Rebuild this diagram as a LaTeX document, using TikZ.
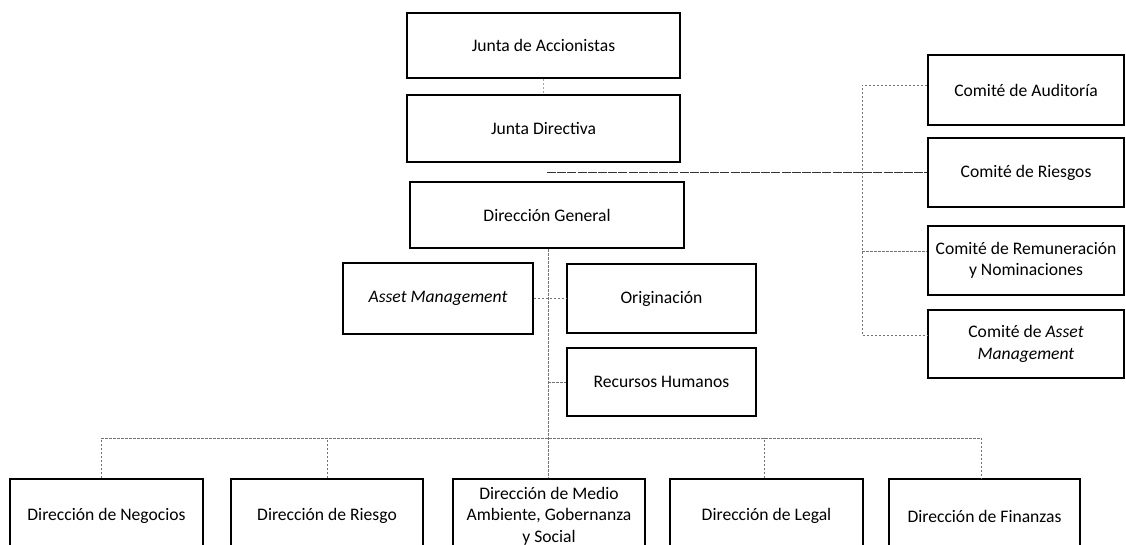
\documentclass[tikz,border=0pt]{standalone}
\usepackage{fontspec}
\setmainfont{Carlito}
\begin{document}
\begin{tikzpicture}[x=1pt,y=-1pt,
  box/.style={draw=black, line width=1.8pt, inner sep=0pt, align=center,
    font=\fontsize{17.6}{21.5}\selectfont},
  bbox/.style={box, minimum height=74pt},
  conn/.style={line width=0.8pt, black!55, dash pattern=on 2.5pt off 1.5pt},
  connd/.style={line width=0.9pt, black!80, dash pattern=on 9pt off 1.2pt}]
\fill[white] (0,0) rectangle (1126,545);
\useasboundingbox (0,0) rectangle (1126,545);
% top column
\node[box, minimum width=273pt, minimum height=65pt] (JA) at (543.5,45.5) {Junta de Accionistas};
\node[box, minimum width=273pt, minimum height=67pt] (JD) at (543.5,128.5) {Junta Directiva};
\node[box, line width=2.2pt, minimum width=274pt, minimum height=66pt] (DG) at (547,215) {Dirección General};
% committees
\node[box, minimum width=196pt, minimum height=70pt] (Aud) at (1026,90) {Comité de Auditoría};
\node[box, minimum width=196pt, minimum height=69pt] (Ries) at (1026,172.5) {Comité de Riesgos};
\node[box, minimum width=196pt, minimum height=69pt] (Rem) at (1026,260.5) {Comité de Remuneración\\y Nominaciones};
\node[box, minimum width=196pt, minimum height=68pt] (CAM) at (1026,344) {Comité de \textit{Asset}\\\textit{Management}};
% middle
\node[box, minimum width=190pt, minimum height=71pt] (AM) at (438,298.5) {\textit{Asset Management}};
\node[box, minimum width=189pt, minimum height=69pt] (Orig) at (661.5,298.5) {Originación};
\node[box, minimum width=189pt, minimum height=68pt] (RH) at (661.5,382) {Recursos Humanos};
% bottom row
\node[bbox, minimum width=193pt] (B1) at (106.5,516) {Dirección de Negocios};
\node[bbox, minimum width=192pt] (B2) at (327,516) {Dirección de Riesgo};
\node[bbox, minimum width=192pt] (B3) at (549,516) {Dirección de Medio\\Ambiente, Gobernanza\\y Social};
\node[bbox, minimum width=193pt] (B4) at (766.5,516) {Dirección de Legal};
\node[bbox, minimum width=191pt] (B5) at (984.5,516) {Dirección de Finanzas};
% connectors
\draw[conn, black!35] (JA.south) -- (JD.north);
\coordinate (jdg) at (547,172.5);
\draw[connd] (jdg) -- (Ries.west);
\coordinate (bx) at (862,0);
\coordinate (audb) at ([yshift=5pt]Aud.west);
\coordinate (remb) at ([yshift=9.5pt]Rem.west);
\coordinate (camb) at ([yshift=9pt]CAM.west);
\draw[conn] (audb) -- (audb -| bx) -- (camb -| bx) -- (camb);
\draw[conn] (remb -| bx) -- (remb);
\coordinate (sp) at ([xshift=1pt]DG.south);
\draw[conn] (sp) -- (sp |- B3.north);
\draw[conn] (AM.east) -- (Orig.west);
\draw[conn] (RH.west -| sp) -- (RH.west);
\coordinate (bus) at (0,438);
\coordinate (b1t) at ([xshift=-5pt]B1.north);
\coordinate (b5t) at ([xshift=-3pt]B5.north);
\draw[conn] (b1t) -- (b1t |- bus) -- (b5t |- bus) -- (b5t);
\draw[conn] (B2.north) -- (B2.north |- bus);
\draw[conn] ([xshift=-2pt]B4.north) -- ([xshift=-2pt]B4.north |- bus);
\end{tikzpicture}
\end{document}
